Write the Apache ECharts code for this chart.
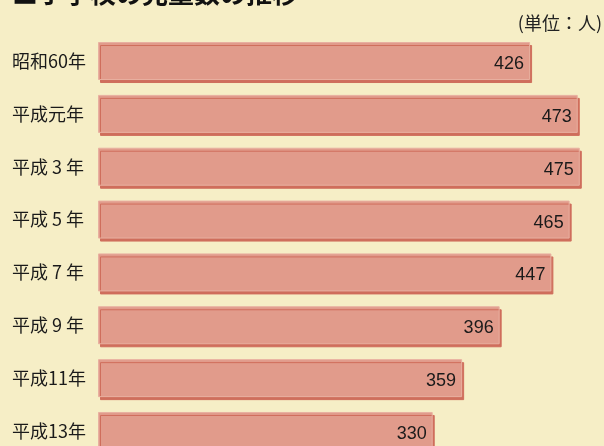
<!DOCTYPE html>
<html><head><meta charset="utf-8">
<script src="https://cdn.jsdelivr.net/npm/echarts@6/dist/echarts.min.js"></script>
<style>html,body{margin:0;padding:0;background:#f6eec6;}#c{width:604px;height:446px;}</style>
</head><body><div id="c"></div>
<script>
const titleText = '■小学校の児童数の推移';
const unitText = '(単位：人)';
const categories = ['昭和60年','平成元年','平成 3 年','平成 5 年','平成 7 年','平成 9 年','平成11年','平成13年'];
const values = [426, 473, 475, 465, 447, 396, 359, 330];

const chart = echarts.init(document.getElementById('c'), null, {renderer:'canvas'});
chart.setOption({
  backgroundColor: '#f6eec6',
  animation: false,
  graphic: [
    {type:'text', left: 12, top: -20, style:{text: titleText, fontSize: 26, fontWeight:'bold', fontFamily:'Noto Sans CJK JP', fill:'#111'}},
    {type:'text', right: 2, top: 14, style:{text: unitText, fontSize: 18, fontFamily:'Noto Sans CJK JP', fill:'#222'}}
  ],
  grid: {left: 98, width: 497, top: 34.6, height: 422.8, containLabel: false, outerBoundsMode: 'none'},
  xAxis: {type:'value', min:0, max:490, show:false},
  yAxis: {type:'category', data: categories, inverse: true,
    axisLine:{show:false}, axisTick:{show:false},
    axisLabel:{align:'left', margin: 86, fontSize: 18, color:'#1a1a1a', fontFamily:'Noto Sans CJK JP'}},
  series: [{
    type:'bar', data: values, barWidth: 38,
    itemStyle:{color:'#e19b8b', borderColor:'#e8b0a0', borderWidth:1,
      shadowColor:'#cf6e5c', shadowOffsetX:2, shadowOffsetY:3, shadowBlur:0},
    label:{show:true, position:'insideRight', distance:6, offset:[0,3], fontSize:18, color:'#1a1a1a', fontFamily:'Liberation Sans'}
  }]
});
</script></body></html>
